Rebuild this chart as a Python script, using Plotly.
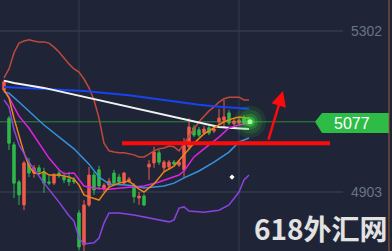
import plotly.graph_objects as go

# ---------------- data ----------------
candle_idx = list(range(50))
opens = [5156,5086,5020,4928,4871,4975,4950,4963,4953,4928,4925,4950,4940,4935,4933,4851,4772,4871,4945,4958,
         4911,4920,4950,4940,4925,4930,4920,4888,4893,4965,4975,5000,4963,4965,4977,4970,4958,5015,5062,5057,
         5049,5062,5054,5077,5081,5099,5072,5074,5086,5081]
highs = [5181,5091,5027,4933,4980,4987,4970,4970,4963,4943,4950,4958,4953,4953,4940,4858,4883,4965,4953,4968,
         4925,4938,4958,4948,4953,4940,4925,4903,4898,4982,5015,5007,4982,4982,4982,4982,5037,5086,5069,5064,
         5067,5069,5064,5109,5131,5106,5084,5086,5094,5089]
lows = [5151,5007,4888,4871,4858,4940,4938,4945,4901,4920,4920,4938,4925,4918,4923,4759,4752,4866,4896,4908,
        4903,4913,4920,4923,4920,4925,4876,4871,4868,4933,4963,4970,4953,4958,4970,4965,4938,5007,5039,5039,
        5044,5044,5049,5069,5062,5069,5067,5069,5069,5072]
closes = [5176,5024,4925,4896,4975,4950,4963,4953,4925,4925,4945,4943,4933,4928,4928,4767,4871,4945,4908,4918,
          4920,4930,4925,4928,4950,4935,4891,4893,4871,4972,5002,4977,4977,4977,4972,4977,5020,5064,5044,5044,
          5059,5049,5059,5086,5089,5074,5079,5081,5074,5077]

upper_x = list(range(50))
upper_y = [5186,5208,5248,5272,5277,5280,5277,5275,5275,5272,5262,5250,5235,5220,5208,5200,5183,5161,5131,5086,
           5024,5005,5002,5000,5000,4997,4995,4990,4990,4997,5005,5010,5012,5017,5015,5005,5022,5042,5059,5077,
           5091,5104,5114,5126,5134,5138,5138,5138,5131,5131]

blue_x = [0, 8, 16, 25, 32, 39, 43, 49]
blue_y = [5163, 5158, 5153, 5143, 5131, 5119, 5114, 5109]

white_x = [0, 2, 8, 17, 25, 32, 39, 43, 45, 49]
white_y = [5179, 5173, 5161, 5136, 5114, 5094, 5074, 5064, 5062, 5059]

lblue_x = [0, 1, 3, 8, 14, 17, 19, 21, 25, 28, 32, 34, 36, 39, 42, 45, 47, 49]
lblue_y = [5151, 5148, 5126, 5069, 5010, 4972, 4940, 4923, 4920, 4913, 4918, 4925, 4938, 4955, 4977, 5002, 5027, 5037]

mag_x = [0, 1, 2, 3, 5, 7, 9, 11, 12, 14, 15, 16, 18, 21, 25, 28, 31, 35, 36, 38, 40, 43, 45, 47, 49]
mag_y = [5156, 5138, 5114, 5091, 5061, 5024, 4987, 4958, 4948, 4950, 4933, 4918, 4913, 4910, 4915, 4918, 4928,
         4945, 4955, 4990, 5010, 5039, 5062, 5069, 5074]

orange_x = [0, 1, 2, 3, 4, 5, 6, 7, 8, 9, 11, 13, 14, 15, 16, 17, 19, 20, 21, 23, 25, 27, 28, 30, 32, 34, 36,
            38, 40, 42, 44, 46, 47, 49]
orange_y = [5156, 5136, 5086, 5042, 5000, 4967, 4950, 4948, 4953, 4945, 4945, 4940, 4935, 4920, 4896, 4891, 4883,
            4900, 4915, 4925, 4930, 4910, 4903, 4923, 4953, 4967, 4995, 5024, 5047, 5062, 5077, 5086, 5089, 5086]

lower_x = [0, 1, 2, 3, 5, 8, 11, 13, 14, 15, 16, 18, 19, 20, 21, 23, 26, 29, 33, 34, 35, 36, 37, 40, 43, 45, 46,
           47, 48, 49]
lower_y = [5131, 5114, 5057, 5020, 4977, 4925, 4878, 4844, 4831, 4789, 4774, 4777, 4789, 4826, 4851, 4851, 4846,
           4839, 4829, 4834, 4863, 4866, 4856, 4853, 4858, 4871, 4888, 4903, 4933, 4945]

current_price = 5077
grid_prices = [5302, 4903]
grid_labels = ["5302", "4903"]
support_price = 5024
arrow_from = (52.8, 5029)
arrow_to = (55.8, 5153)
cursor_pt = (45.6, 4940)
watermark = "618外汇网"

BG = "#1f2537"

fig = go.Figure()

fig.add_trace(go.Candlestick(
    x=candle_idx, open=opens, high=highs, low=lows, close=closes,
    increasing=dict(line=dict(color="#ef5a4c", width=1), fillcolor="#ef5a4c"),
    decreasing=dict(line=dict(color="#2fb84a", width=1), fillcolor="#2fb84a"),
    whiskerwidth=0, hoverinfo="skip", showlegend=False))

def add_line(xs, ys, color, width):
    fig.add_trace(go.Scatter(x=xs, y=ys, mode="lines", line=dict(color=color, width=width),
                             hoverinfo="skip", showlegend=False))

add_line(upper_x, upper_y, "#c0483a", 1.5)
add_line(blue_x, blue_y, "#1743f0", 2)
add_line(white_x, white_y, "#f2f2f2", 2)
add_line(lblue_x, lblue_y, "#3592e0", 1.5)
add_line(mag_x, mag_y, "#e022e0", 1.5)
add_line(orange_x, orange_y, "#f08418", 1.5)
add_line(lower_x, lower_y, "#8a42e0", 1.5)

# glow on the last price
for s, a in [(32, 0.10), (24, 0.15), (16, 0.25), (10, 0.45)]:
    fig.add_trace(go.Scatter(x=[candle_idx[-1] + 0.2], y=[current_price], mode="markers",
                             marker=dict(size=s, color=f"rgba(60,230,60,{a})", line=dict(width=0)),
                             hoverinfo="skip", showlegend=False))
fig.add_trace(go.Scatter(x=[candle_idx[-1] + 0.2], y=[current_price], mode="markers",
                         marker=dict(size=5, color="#a8ffa0", line=dict(width=0)),
                         hoverinfo="skip", showlegend=False))

fig.add_trace(go.Scatter(x=[cursor_pt[0]], y=[cursor_pt[1]], mode="markers",
                         marker=dict(size=4, color="#ffffff", symbol="diamond", line=dict(width=0)),
                         hoverinfo="skip", showlegend=False))

shapes = []
# grid
for p in grid_prices:
    shapes.append(dict(type="line", xref="paper", yref="y", x0=0, x1=0.875, y0=p, y1=p,
                       line=dict(color="#3d4457", width=1), layer="below"))
for xv in [15, 47]:
    shapes.append(dict(type="line", xref="x", yref="paper", x0=xv, x1=xv, y0=0, y1=1,
                       line=dict(color="#363d50", width=1), layer="below"))
# current price line and label
shapes.append(dict(type="line", xref="paper", yref="y", x0=0, x1=0.804, y0=current_price, y1=current_price,
                   line=dict(color="#2a8c3a", width=1), layer="below"))
shapes.append(dict(type="path", xref="paper", yref="y",
                   path=f"M 0.8036,{current_price} L 0.8214,{current_price+22} L 0.9923,{current_price+22} "
                        f"L 0.9923,{current_price-28} L 0.8214,{current_price-28} Z",
                   fillcolor="#2dbd47", line=dict(width=0)))
# right border
shapes.append(dict(type="line", xref="paper", yref="paper", x0=0.9923, x1=0.9923, y0=0, y1=1,
                   line=dict(color="#9a5e3c", width=1)))
# red support line
shapes.append(dict(type="line", xref="x", yref="y", x0=23.6, x1=65.2, y0=support_price, y1=support_price,
                   line=dict(color="#ff0a0a", width=4)))

annotations = []
for p, t in zip(grid_prices, grid_labels):
    annotations.append(dict(x=0.934, y=p, xref="paper", yref="y", text=t, showarrow=False,
                            xanchor="center", yanchor="middle",
                            font=dict(family="Liberation Sans, Arial", size=14, color="#6b7386")))
annotations.append(dict(x=0.898, y=current_price - 3, xref="paper", yref="y", text=str(current_price),
                        showarrow=False, xanchor="center", yanchor="middle",
                        font=dict(family="Liberation Sans, Arial", size=16, color="#ffffff")))
annotations.append(dict(x=arrow_to[0], y=arrow_to[1], ax=arrow_from[0], ay=arrow_from[1],
                        xref="x", yref="y", axref="x", ayref="y", text="", showarrow=True,
                        arrowhead=2, arrowsize=1.2, arrowwidth=2.5, arrowcolor="#ff0a0a"))
annotations.append(dict(x=0.819, y=0.092, xref="paper", yref="paper", text=f"<b>{watermark}</b>",
                        showarrow=False, xanchor="center", yanchor="middle",
                        font=dict(family="Noto Sans CJK SC", size=28, color="#e2e2e2")))

fig.update_layout(
    width=392, height=251, margin=dict(l=0, r=0, t=0, b=0),
    paper_bgcolor=BG, plot_bgcolor=BG,
    xaxis=dict(range=[-0.8, 77.6], visible=False, rangeslider=dict(visible=False), fixedrange=True),
    yaxis=dict(range=[4756.8, 5378.8], visible=False, fixedrange=True),
    shapes=shapes, annotations=annotations, showlegend=False,
)

fig.write_html("out.html", config={"displayModeBar": False})
